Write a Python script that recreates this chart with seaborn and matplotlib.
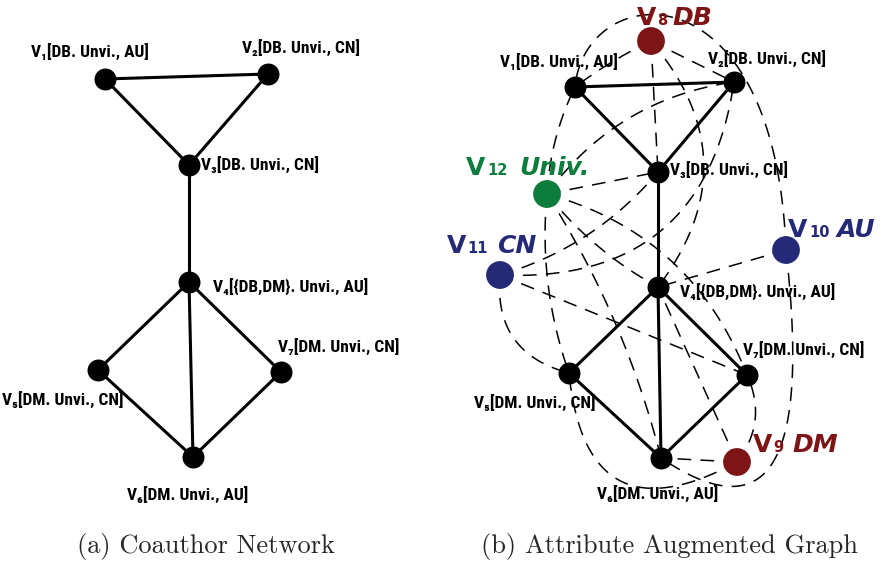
import matplotlib
matplotlib.use('Agg')
import numpy as np
import pandas as pd
import matplotlib.pyplot as plt
import seaborn as sns

# --- data -------------------------------------------------------------
# coauthor network (a): node positions
left_nodes = ['v1', 'v2', 'v3', 'v4', 'v5', 'v6', 'v7']
left_x = [105, 268, 189, 189, 98, 193, 281]
left_y = [79, 74, 165, 282, 370, 457, 372]

# attribute augmented graph (b)
right_nodes = ['v1', 'v2', 'v3', 'v4', 'v5', 'v6', 'v7', 'v8', 'v9', 'v10', 'v11', 'v12']
right_x = [575, 734, 658, 658, 569, 661, 747, 651, 737, 786, 500, 547]
right_y = [87, 82, 172, 287, 373, 458, 375, 41, 462, 250, 275, 194]
node_kind = ['author'] * 7 + ['DB', 'DM', 'AU', 'CN', 'Univ.']

author_labels = ['[DB. Unvi., AU]', '[DB. Unvi., CN]', '[DB. Unvi., CN]',
                 '[{DB,DM}. Unvi., AU]', '[DM. Unvi., CN]', '[DM. Unvi., AU]',
                 '[DM. Unvi., CN]']
attr_labels = ['DB', 'DM', 'AU', 'CN', 'Univ.']

coauthor_edges = [('v1', 'v2'), ('v1', 'v3'), ('v2', 'v3'), ('v3', 'v4'),
                  ('v4', 'v5'), ('v4', 'v6'), ('v4', 'v7'), ('v5', 'v6'), ('v7', 'v6')]
# attribute edges (attribute node, author node)
attr_edges = [('v8', 'v1'), ('v8', 'v2'), ('v8', 'v3'), ('v8', 'v4'),
              ('v9', 'v4'), ('v9', 'v5'), ('v9', 'v6'), ('v9', 'v7'),
              ('v10', 'v1'), ('v10', 'v4'), ('v10', 'v6'),
              ('v11', 'v2'), ('v11', 'v3'), ('v11', 'v5'), ('v11', 'v7'),
              ('v12', 'v1'), ('v12', 'v2'), ('v12', 'v3'), ('v12', 'v4'),
              ('v12', 'v5'), ('v12', 'v6'), ('v12', 'v7')]
# shape of each dashed edge (style): a float is an arc3-like bend,
# a tuple gives cubic handles relative to the two end nodes
attr_shape = [0.05, 0.0, 0.0, -0.4,
              0.0, -0.75, 0.0, 0.3,
              (-11, -290, 10, -107), 0.0, (19, 170, 129, 87),
              0.45, 0.15, 0.42, 0.0,
              -0.1, -0.21, 0.0, 0.1,
              0.11, -0.08, -0.25]

# --- style ------------------------------------------------------------
sns.set_theme(style='white')
colors = {'author': 'black', 'DB': '#7d1517', 'DM': '#7d1517',
          'AU': '#252a78', 'CN': '#252a78', 'Univ.': '#0c7d3d'}
sub = str.maketrans('0123456789', '₀₁₂₃₄₅₆₇₈₉')
lab_font = dict(family=['Roboto Condensed', 'DejaVu Sans'], weight='bold',
                fontsize=12.5, color='black', zorder=5)

# label anchors (x, y, ha) for author nodes
left_lab_pos = [(90, 52, 'center'), (301, 48, 'center'), (201, 165, 'left'),
                (213, 287, 'left'), (63, 400, 'center'), (188, 495, 'center'),
                (339, 347, 'center')]
right_lab_pos = [(559, 62, 'center'), (767, 59, 'center'), (670, 170, 'left'),
                 (680, 292, 'left'), (535, 403, 'center'), (658, 494, 'center'),
                 (804, 350, 'center')]
# attribute label pieces: x of "V", x of digits, x of name, baseline y
attr_lab_pos = [(637, 657, 672, 25), (753, 773, 792, 452), (788, 809, 837, 237),
                (447, 467, 497, 253), (466, 487, 519, 175)]

fig = plt.figure(figsize=(8.82, 5.63), dpi=100)
ax = fig.add_axes([0, 0, 1, 1])

left = pd.DataFrame({'node': left_nodes, 'x': left_x, 'y': left_y})
right = pd.DataFrame({'node': right_nodes, 'x': right_x, 'y': right_y, 'kind': node_kind})
lpos = left.set_index('node')
rpos = right.set_index('node')


def curve(p0, p1, shape, n=100):
    (x1, y1), (x2, y2) = p0, p1
    t = np.linspace(0, 1, n)
    if isinstance(shape, tuple):
        c1 = (x1 + shape[0], y1 + shape[1])
        c2 = (x2 + shape[2], y2 + shape[3])
        w = [(1 - t) ** 3, 3 * (1 - t) ** 2 * t, 3 * (1 - t) * t ** 2, t ** 3]
        bx = w[0] * x1 + w[1] * c1[0] + w[2] * c2[0] + w[3] * x2
        by = w[0] * y1 + w[1] * c1[1] + w[2] * c2[1] + w[3] * y2
        return bx, by
    mx, my = (x1 + x2) / 2, (y1 + y2) / 2
    dx, dy = x2 - x1, y2 - y1
    cx, cy = mx - shape * dy, my + shape * dx
    bx = (1 - t) ** 2 * x1 + 2 * (1 - t) * t * cx + t ** 2 * x2
    by = (1 - t) ** 2 * y1 + 2 * (1 - t) * t * cy + t ** 2 * y2
    return bx, by


# solid coauthor edges
for pos in (lpos, rpos):
    for a, b in coauthor_edges:
        ax.plot([pos.loc[a, 'x'], pos.loc[b, 'x']], [pos.loc[a, 'y'], pos.loc[b, 'y']],
                color='black', lw=2.2, solid_capstyle='round', zorder=2)

# dashed attribute edges
for (a, b), s in zip(attr_edges, attr_shape):
    bx, by = curve((rpos.loc[a, 'x'], rpos.loc[a, 'y']), (rpos.loc[b, 'x'], rpos.loc[b, 'y']), s)
    ax.plot(bx, by, color='black', lw=1.1, dashes=(9, 6), zorder=1)

# nodes
sns.scatterplot(data=left, x='x', y='y', color='black', s=250, linewidth=0, ax=ax, zorder=3, legend=False)
sns.scatterplot(data=right[right.kind == 'author'], x='x', y='y', color='black', s=250,
                linewidth=0, ax=ax, zorder=3, legend=False)
sns.scatterplot(data=right[right.kind != 'author'], x='x', y='y', hue='kind', palette=colors,
                s=400, linewidth=0, ax=ax, zorder=3, legend=False)
ax.set_xlim(0, 882)
ax.set_ylim(563, 0)
ax.axis('off')

# author labels
for i, node in enumerate(left_nodes):
    x, y, ha = left_lab_pos[i]
    ax.text(x, y, 'V' + node[1:].translate(sub) + author_labels[i], ha=ha, va='center', **lab_font)
    x, y, ha = right_lab_pos[i]
    ax.text(x, y, 'V' + node[1:].translate(sub) + author_labels[i], ha=ha, va='center', **lab_font)

# attribute labels
for i, node in enumerate(right_nodes[7:]):
    c = colors[node_kind[7 + i]]
    xv, xd, xn, yb = attr_lab_pos[i]
    ax.text(xv, yb, 'V', color=c, family='DejaVu Sans', weight='bold', fontsize=18, va='baseline', zorder=5)
    ax.text(xd, yb, node[1:], color=c, family='DejaVu Sans', weight='bold', fontsize=10.5, va='baseline', zorder=5)
    ax.text(xn, yb, attr_labels[i], color=c, family='DejaVu Sans', weight='bold', style='italic',
            fontsize=18, va='baseline', zorder=5)

# captions
ax.text(206, 546, '(a) Coauthor Network', family='cmr10', fontsize=19, ha='center', va='center')
ax.text(669, 546, '(b) Attribute Augmented Graph', family='cmr10', fontsize=19, ha='center', va='center')

fig.savefig('out.png', dpi=100)
